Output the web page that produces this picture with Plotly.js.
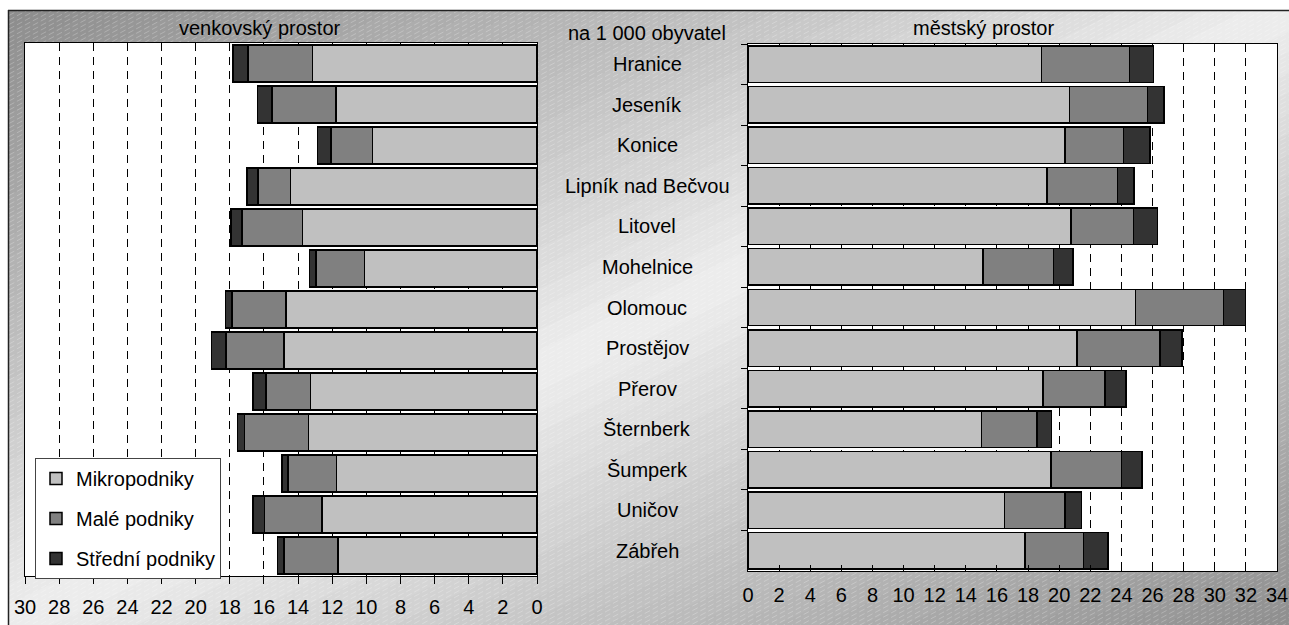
<!DOCTYPE html>
<html>
<head>
<meta charset="utf-8">
<script src="https://cdn.plot.ly/plotly-3.0.1.min.js"></script>
<style>
  html, body { margin: 0; padding: 0; background: #ffffff; }
  #chart { width: 1289px; height: 625px; }
</style>
</head>
<body>
<div id="chart"></div>
<script>
const categories = ['Hranice','Jeseník','Konice','Lipník nad Bečvou','Litovel','Mohelnice','Olomouc','Prostějov','Přerov','Šternberk','Šumperk','Uničov','Zábřeh'];
const seriesNames = ['Mikropodniky','Malé podniky','Střední podniky'];

// venkovský prostor (rural)
const ruralMikro   = [13.15, 11.77, 9.63, 14.45, 13.74, 10.12, 14.70, 14.81, 13.28, 13.40, 11.75, 12.59, 11.66];
const ruralMale    = [3.77, 3.75, 2.45, 1.91, 3.56, 2.82, 3.16, 3.41, 2.59, 3.75, 2.83, 3.39, 3.15];
const ruralStredni = [0.88, 0.86, 0.78, 0.62, 0.63, 0.38, 0.40, 0.86, 0.76, 0.40, 0.37, 0.65, 0.39];

// městský prostor (urban)
const urbanMikro   = [18.87, 20.66, 20.36, 19.21, 20.76, 15.11, 24.91, 21.15, 18.95, 15.00, 19.47, 16.50, 17.81];
const urbanMale    = [5.66, 5.02, 3.78, 4.54, 4.01, 4.52, 5.65, 5.32, 4.01, 3.56, 4.52, 3.87, 3.74];
const urbanStredni = [1.54, 1.06, 1.71, 1.05, 1.56, 1.27, 1.42, 1.42, 1.33, 0.94, 1.33, 1.05, 1.59];

const colors = ['#c0c0c0', '#808080', '#333333'];
const FONT = '"Liberation Sans", Arial, sans-serif';

const ruralSeries = [ruralMikro, ruralMale, ruralStredni];
const urbanSeries = [urbanMikro, urbanMale, urbanStredni];

const traces = [];
ruralSeries.forEach((vals, i) => {
  traces.push({
    type: 'bar', orientation: 'h', x: vals, y: categories,
    name: seriesNames[i], legendgroup: 'g' + i, showlegend: true,
    xaxis: 'x', yaxis: 'y',
    marker: { color: colors[i], line: { color: '#000', width: 1.5 } },
    hoverinfo: 'skip'
  });
});
urbanSeries.forEach((vals, i) => {
  traces.push({
    type: 'bar', orientation: 'h', x: vals, y: categories,
    name: seriesNames[i], legendgroup: 'g' + i, showlegend: false,
    xaxis: 'x2', yaxis: 'y2',
    marker: { color: colors[i], line: { color: '#000', width: 1.5 } },
    hoverinfo: 'skip'
  });
});

const W = 1289, H = 625;
const px = v => v / W;
const py = v => 1 - v / H;

// plot-area pixel boxes (left, top, right, bottom)
const leftBox  = [25, 43, 537, 576];
const rightBox = [748, 44, 1277, 571];

// ---- decorative background drawn with paper-referenced shapes ----
function bgGrey(s) {
  const stops = [[0, 140], [0.3, 196], [0.5, 238], [0.7, 198], [1, 142]];
  for (let k = 1; k < stops.length; k++) {
    if (s <= stops[k][0]) {
      const a = stops[k - 1], b = stops[k];
      return Math.round(a[1] + (s - a[0]) / (b[0] - a[0]) * (b[1] - a[1]));
    }
  }
  return 142;
}
const P = (x, y) => px(x).toFixed(5) + ',' + py(y).toFixed(5);
const shapes = [];
const FX = 9, FY = 11, FW = W - FX, FH = H - FY;
const NB = 60;
for (let k = 0; k < NB; k++) {
  const t0 = 2 * k / NB, t1 = 2 * (k + 1) / NB + 0.003;
  const g = bgGrey((k + 0.5) / NB);
  shapes.push({
    type: 'path', layer: 'below', xref: 'paper', yref: 'paper',
    path: 'M' + P(FX + t0 * FW, FY) + ' L' + P(FX + t1 * FW, FY) + ' L' + P(FX, FY + t1 * FH) + ' L' + P(FX, FY + t0 * FH) + ' Z',
    fillcolor: 'rgb(' + g + ',' + g + ',' + g + ')', line: { width: 0 }
  });
}
// fine diagonal hatch
const slope = Math.tan(28 * Math.PI / 180);
let hatch = '';
for (let c = 0; c < FH + slope * FW + 10; c += 4.5) {
  hatch += 'M' + P(FX, FY + c) + ' L' + P(FX + FW, FY + c - slope * FW) + ' ';
}
shapes.push({ type: 'path', layer: 'below', xref: 'paper', yref: 'paper', path: hatch,
  fillcolor: 'rgba(0,0,0,0)', line: { color: 'rgba(255,255,255,0.3)', width: 0.8, dash: '6px,3px' } });
// white margins outside the frame
shapes.push({ type: 'rect', layer: 'below', xref: 'paper', yref: 'paper', x0: px(-20), x1: px(W + 20), y0: py(FY), y1: py(-20), fillcolor: '#ffffff', line: { width: 0 } });
shapes.push({ type: 'rect', layer: 'below', xref: 'paper', yref: 'paper', x0: px(-20), x1: px(FX), y0: py(H + 20), y1: py(-20), fillcolor: '#ffffff', line: { width: 0 } });
// frame lines
shapes.push({ type: 'line', layer: 'below', xref: 'paper', yref: 'paper', x0: px(8), x1: px(W + 5), y0: py(10.5), y1: py(10.5), line: { color: '#222', width: 1.5 } });
shapes.push({ type: 'line', layer: 'below', xref: 'paper', yref: 'paper', x0: px(8.5), x1: px(8.5), y0: py(10), y1: py(H + 5), line: { color: '#222', width: 1.5 } });
// white plot areas
[leftBox, rightBox].forEach(b => shapes.push({
  type: 'rect', layer: 'below', xref: 'paper', yref: 'paper',
  x0: px(b[0]), x1: px(b[2]), y0: py(b[3]), y1: py(b[1]), fillcolor: '#ffffff', line: { width: 0 }
}));

const gridStyle = {
  showgrid: true, gridcolor: '#000', gridwidth: 1, griddash: '8px,6px',
  zeroline: false, showline: true, mirror: true, linecolor: '#000', linewidth: 1,
  ticks: 'outside', ticklen: 7, tickcolor: '#000', tickwidth: 1,
  ticklabelstandoff: 6,
  dtick: 2, tick0: 0, tickfont: { family: FONT, size: 20, color: '#000' }
};

const annotations = categories.map(c => ({
  text: c, xref: 'paper', yref: 'y2', x: px(647), y: c,
  showarrow: false, xanchor: 'center', yanchor: 'middle',
  font: { family: FONT, size: 20, color: '#000' }
}));
annotations.push(
  { text: 'venkovský prostor', xref: 'paper', yref: 'paper', x: px(260), y: py(28), showarrow: false, xanchor: 'center', yanchor: 'middle', font: { family: FONT, size: 20, color: '#000' } },
  { text: 'městský prostor', xref: 'paper', yref: 'paper', x: px(983), y: py(28), showarrow: false, xanchor: 'center', yanchor: 'middle', font: { family: FONT, size: 20, color: '#000' } },
  { text: 'na 1 000 obyvatel', xref: 'paper', yref: 'paper', x: px(647), y: py(33), showarrow: false, xanchor: 'center', yanchor: 'middle', font: { family: FONT, size: 20, color: '#000' } }
);

const layout = {
  width: W, height: H,
  margin: { l: 0, r: 0, t: 0, b: 0 },
  paper_bgcolor: '#d4d4d4',
  plot_bgcolor: 'rgba(0,0,0,0)',
  barmode: 'stack',
  bargap: 0.1,
  font: { family: FONT, size: 20, color: '#000' },
  xaxis: Object.assign({}, gridStyle, { domain: [px(leftBox[0]), px(leftBox[2])], range: [30, 0], anchor: 'y' }),
  yaxis: { domain: [py(leftBox[3]), py(leftBox[1])], type: 'category', autorange: 'reversed', anchor: 'x', side: 'right',
           showticklabels: false, ticks: '', showline: true, mirror: true, linecolor: '#000', linewidth: 1, showgrid: false, zeroline: false },
  xaxis2: Object.assign({}, gridStyle, { domain: [px(rightBox[0]), px(rightBox[2])], range: [0, 34], anchor: 'y2', ticks: 'inside', ticklen: 6 }),
  yaxis2: { domain: [py(rightBox[3]), py(rightBox[1])], type: 'category', autorange: 'reversed', anchor: 'x2',
            showticklabels: false, ticks: 'outside', tickson: 'boundaries', ticklen: 6, tickcolor: '#000',
            showline: true, mirror: true, linecolor: '#000', linewidth: 1, showgrid: false, zeroline: false },
  shapes: shapes,
  showlegend: true,
  legend: {
    x: px(35), y: py(458), xanchor: 'left', yanchor: 'top',
    bgcolor: '#ffffff', bordercolor: '#444', borderwidth: 1,
    traceorder: 'grouped', tracegroupgap: 11,
    font: { family: FONT, size: 20, color: '#000' },
    itemwidth: 30
  },
  annotations: annotations
};

Plotly.newPlot('chart', traces, layout, { displayModeBar: false, staticPlot: true });
</script>
</body>
</html>
